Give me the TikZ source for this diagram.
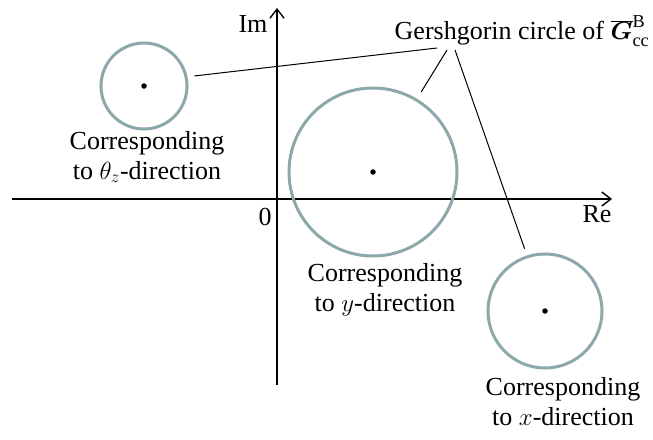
\documentclass[tikz,border=0pt]{standalone}
\usepackage{fontspec}
\setmainfont{Liberation Serif}
\usepackage{bm}
\usetikzlibrary{arrows.meta}

\definecolor{circgray}{RGB}{140,168,170}

\begin{document}
\begin{tikzpicture}[x=1pt, y=-1pt,
		axis/.style={line width=1.6pt, -{Straight Barb[length=9pt,width=14pt,line width=1.4pt]}},
		gcircle/.style={circle, draw=circgray, line width=3pt, inner sep=0pt},
		leader/.style={line width=1pt},
		ctr/.style={circle, fill, inner sep=0pt, minimum size=5.5pt},
		lbl/.style={font=\fontsize{26}{30}\selectfont, inner sep=0pt, align=center}]
		\useasboundingbox (0,0) rectangle (653,439);

		% axes
		\coordinate (xl) at (12,199);
		\coordinate (xr) at (612,199);
		\coordinate (yb) at (277,385);
		\coordinate (yt) at (277,8);
		\draw [axis] (xl) -- (xr);
		\draw [axis] (yb) -- (yt);
		\node [lbl] (im) at (253,24) {Im};
		\node [lbl] (re) at (597,214) {Re};
		\node [lbl] (zero) at (265,217) {0};

		% Gershgorin circles, centres in px
		\node [gcircle, minimum size=86pt] (cz) at (144,86) {};
		\node [gcircle, minimum size=168pt] (cy) at (373,172) {};
		\node [gcircle, minimum size=114pt] (cx) at (545,311) {};
		\node [ctr] at (cz.center) {};
		\node [ctr] at (cy.center) {};
		\node [ctr] at (cx.center) {};

		\node [lbl] (tz) at (147,157) {Corresponding\\to $\theta_z$-direction};
		\node [lbl] (ty) at (385,290) {Corresponding\\to $y$-direction};
		\node [lbl] (tx) at (563,402) {Corresponding\\to $x$-direction};

		% label with leaders
		\node [lbl] (gl) at (522,31) {Gershgorin circle of $\overline{\bm{G}}^{\mathrm{B}}_{\mathrm{cc}}$};
		\coordinate (la) at (437,48);
		\coordinate (lb) at (447,50);
		\coordinate (lc) at (455,50);
		\draw [leader, shorten >=7pt] (la) -- (cz.12.7);
		\draw [leader, shorten >=8pt] (lb) -- (cy.59.6);
		\draw [leader, shorten >=7pt] (lc) -- (cx.108);
	\end{tikzpicture}
\end{document}
